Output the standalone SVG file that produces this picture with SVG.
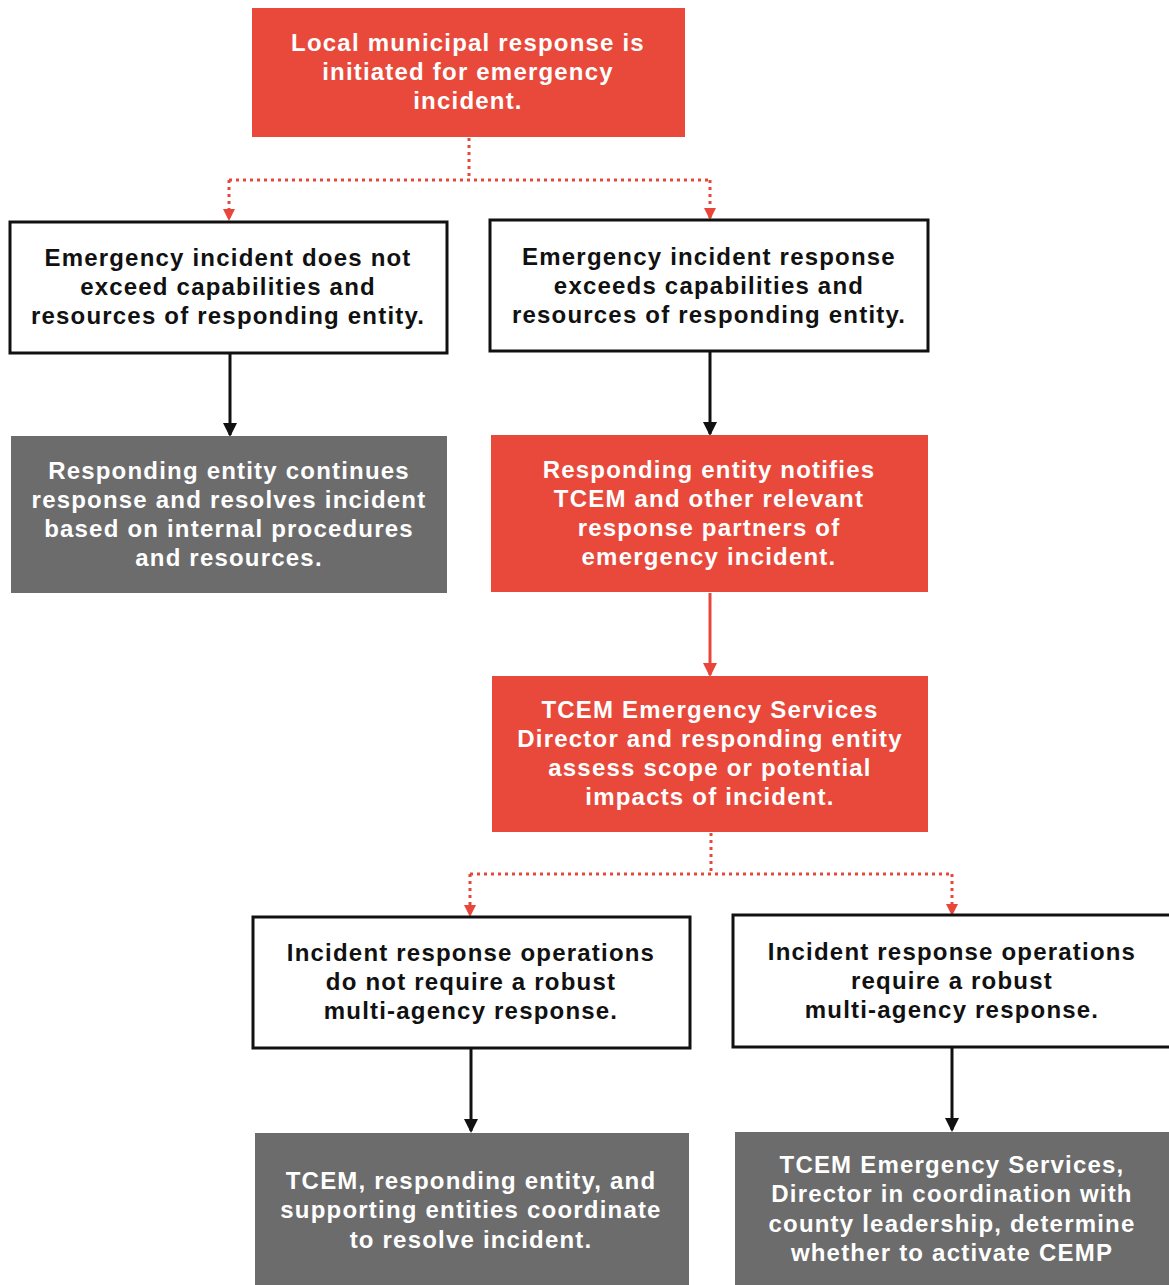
<svg xmlns="http://www.w3.org/2000/svg" width="1169" height="1285" viewBox="0 0 1169 1285">
<defs>
<marker id="ar" markerWidth="12" markerHeight="12" refX="10" refY="6" orient="auto" markerUnits="userSpaceOnUse" viewBox="0 0 12 12"><path d="M0,0 L12,6 L0,12 Z" fill="#e8463a"/></marker>
<marker id="ab" markerWidth="14" markerHeight="14" refX="12" refY="7" orient="auto" markerUnits="userSpaceOnUse" viewBox="0 0 14 14"><path d="M0,0 L14,7 L0,14 Z" fill="#111"/></marker>
<marker id="arr" markerWidth="14" markerHeight="14" refX="12" refY="7" orient="auto" markerUnits="userSpaceOnUse" viewBox="0 0 14 14"><path d="M0,0 L14,7 L0,14 Z" fill="#e8463a"/></marker>
</defs>
<style>
.red{fill:#e8493b}
.gray{fill:#6c6c6c}
.white{fill:#fff;stroke:#111;stroke-width:3}
text{font-family:"Liberation Sans",Arial,sans-serif;font-weight:700;font-size:24px;letter-spacing:1.2px;text-anchor:middle}
.tw{fill:#fff}
.tb{fill:#111}
.dot{fill:none;stroke:#e8463a;stroke-width:3;stroke-dasharray:3 4}
.solid{fill:none;stroke:#111;stroke-width:3}
.solidr{fill:none;stroke:#e8463a;stroke-width:3}
</style>
<rect width="1169" height="1285" fill="#fff"/>
<g id="connectors">
<path class="dot" d="M469,138 V180 M229,180 H710"/>
<path class="dot" d="M229,180 V219" marker-end="url(#ar)"/>
<path class="dot" d="M710,180 V218" marker-end="url(#ar)"/>
<path class="solid" d="M230,354 V435" marker-end="url(#ab)"/>
<path class="solid" d="M710,352 V434" marker-end="url(#ab)"/>
<path class="solidr" d="M710,593 V675" marker-end="url(#arr)"/>
<path class="dot" d="M711,833 V874 M470,874 H952"/>
<path class="dot" d="M470,874 V915" marker-end="url(#ar)"/>
<path class="dot" d="M952,874 V914" marker-end="url(#ar)"/>
<path class="solid" d="M471,1049 V1131" marker-end="url(#ab)"/>
<path class="solid" d="M952,1048 V1130" marker-end="url(#ab)"/>
</g>
<g id="n1"><rect class="red" x="252" y="8" width="433" height="129"/>
<text class="tw" x="468" y="51">Local municipal response is</text><text class="tw" x="468" y="80">initiated for emergency</text><text class="tw" x="468" y="109">incident.</text></g>
<g id="n2"><rect class="white" x="10" y="222" width="437" height="131"/>
<text class="tb" x="228" y="266">Emergency incident does not</text><text class="tb" x="228" y="295">exceed capabilities and</text><text class="tb" x="228" y="324">resources of responding entity.</text></g>
<g id="n3"><rect class="white" x="490" y="220" width="438" height="131"/>
<text class="tb" x="709" y="265">Emergency incident response</text><text class="tb" x="709" y="294">exceeds capabilities and</text><text class="tb" x="709" y="323">resources of responding entity.</text></g>
<g id="n4"><rect class="gray" x="11" y="436" width="436" height="157"/>
<text class="tw" x="229" y="479">Responding entity continues</text><text class="tw" x="229" y="508">response and resolves incident</text><text class="tw" x="229" y="537">based on internal procedures</text><text class="tw" x="229" y="566">and resources.</text></g>
<g id="n5"><rect class="red" x="491" y="435" width="437" height="157"/>
<text class="tw" x="709" y="478">Responding entity notifies</text><text class="tw" x="709" y="507">TCEM and other relevant</text><text class="tw" x="709" y="536">response partners of</text><text class="tw" x="709" y="565">emergency incident.</text></g>
<g id="n6"><rect class="red" x="492" y="676" width="436" height="156"/>
<text class="tw" x="710" y="718">TCEM Emergency Services</text><text class="tw" x="710" y="747">Director and responding entity</text><text class="tw" x="710" y="776">assess scope or potential</text><text class="tw" x="710" y="805">impacts of incident.</text></g>
<g id="n7"><rect class="white" x="253" y="917" width="437" height="131"/>
<text class="tb" x="471" y="961">Incident response operations</text><text class="tb" x="471" y="990">do not require a robust</text><text class="tb" x="471" y="1019">multi-agency response.</text></g>
<g id="n8"><rect class="white" x="733" y="915" width="440" height="132"/>
<text class="tb" x="952" y="960">Incident response operations</text><text class="tb" x="952" y="989">require a robust</text><text class="tb" x="952" y="1018">multi-agency response.</text></g>
<g id="n9"><rect class="gray" x="255" y="1133" width="434" height="155"/>
<text class="tw" x="471" y="1189">TCEM, responding entity, and</text><text class="tw" x="471" y="1218">supporting entities coordinate</text><text class="tw" x="471" y="1248">to resolve incident.</text></g>
<g id="n10"><rect class="gray" x="735" y="1132" width="440" height="156"/>
<text class="tw" x="952" y="1173">TCEM Emergency Services,</text><text class="tw" x="952" y="1202">Director in coordination with</text><text class="tw" x="952" y="1232">county leadership, determine</text><text class="tw" x="952" y="1261">whether to activate CEMP</text></g>
</svg>
